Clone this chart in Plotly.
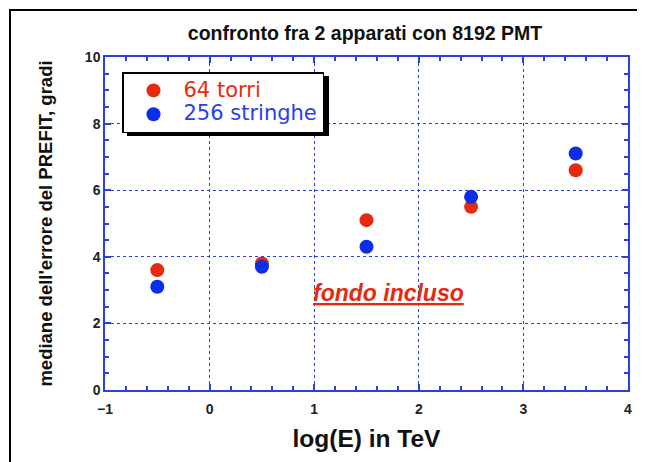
import plotly.graph_objects as go

x_vals = [-0.5, 0.5, 1.5, 2.5, 3.5]
torri_64 = [3.6, 3.8, 5.1, 5.5, 6.6]
stringhe_256 = [3.1, 3.7, 4.3, 5.8, 7.1]

RED = "#e62a10"
BLUE = "#0b2de6"
AXBLUE = "#2a3fe0"
FONT = "Liberation Sans, Arial, Helvetica"

OFF = 8  # page body margin
W, H = 645 - OFF, 462 - OFF
# plot area in page coordinates
PX0, PX1, PY0, PY1 = 105, 628, 57, 390
L, R, T, B = PX0 - OFF, W - (PX1 - OFF), PY0 - OFF, H - (PY1 - OFF)
pw, ph = W - L - R, H - T - B

def px(xp):
    return (xp - OFF - L) / pw

def py(yp):
    return (H - B - (yp - OFF)) / ph

fig = go.Figure()
fig.add_trace(go.Scatter(x=x_vals, y=torri_64, mode="markers",
                         name=f"<span style='color:{RED};font-size:21px'>64 torri</span>",
                         marker=dict(color=RED, size=14)))
fig.add_trace(go.Scatter(x=x_vals, y=stringhe_256, mode="markers",
                         name="<span style='color:#2b40e6;font-size:21px'>256 stringhe</span>",
                         marker=dict(color=BLUE, size=14)))

axis_common = dict(
    showline=True, linecolor=AXBLUE, linewidth=1.5, mirror="allticks",
    ticks="inside", ticklen=6, tickcolor=AXBLUE, tickwidth=1.5,
    showgrid=True, gridcolor=AXBLUE, griddash="dot", gridwidth=1,
    zeroline=False,
    tickfont=dict(family=FONT, size=14, color="#222", weight="bold"),
)

fig.update_xaxes(range=[-1, 4], dtick=1, tick0=-1, ticklabelstandoff=5,
                 minor=dict(dtick=0.2, ticks="inside", ticklen=4, tickcolor=AXBLUE, showgrid=False),
                 title=dict(text="<b>log(E) in TeV</b>", font=dict(family=FONT, size=24.5, color="#111"), standoff=14),
                 **axis_common)
fig.update_yaxes(range=[0, 10], dtick=2,
                 minor=dict(dtick=0.5, ticks="inside", ticklen=4, tickcolor=AXBLUE, showgrid=False),
                 title=dict(text="<b>mediane dell'errore del PREFIT, gradi</b>", font=dict(family=FONT, size=18.5, color="#111"), standoff=27),
                 **axis_common)

fig.add_annotation(x=1.715, y=2.91, xref="x", yref="y", text="<b><i><u>fondo incluso</u></i></b>",
                   showarrow=False, font=dict(family=FONT, size=23, color=RED))

# outer frame
fig.add_shape(type="rect", xref="paper", yref="paper",
              x0=px(10), x1=px(641), y0=py(480), y1=py(10),
              line=dict(color="black", width=2), layer="below")
# legend shadow
fig.add_shape(type="rect", xref="paper", yref="paper",
              x0=px(127), x1=px(329), y0=py(136), y1=py(76),
              line=dict(width=0), fillcolor="black", layer="above")

fig.update_layout(
    width=W, height=H,
    margin=dict(l=L, r=R, t=T, b=B),
    paper_bgcolor="white", plot_bgcolor="white",
    title=dict(text="<b>confronto fra 2 apparati con 8192 PMT</b>", xref="paper", x=px(365), xanchor="center",
               y=1 - (33 - OFF) / H, yanchor="middle",
               font=dict(family=FONT, size=19.5, color="#111")),
    legend=dict(x=px(122), y=py(72), xanchor="left", yanchor="top",
                bgcolor="white", bordercolor="black", borderwidth=1.5,
                font=dict(family="DejaVu Sans", size=16),
                tracegroupgap=0, itemwidth=50),
    showlegend=True,
)

fig.write_html("out.html")
